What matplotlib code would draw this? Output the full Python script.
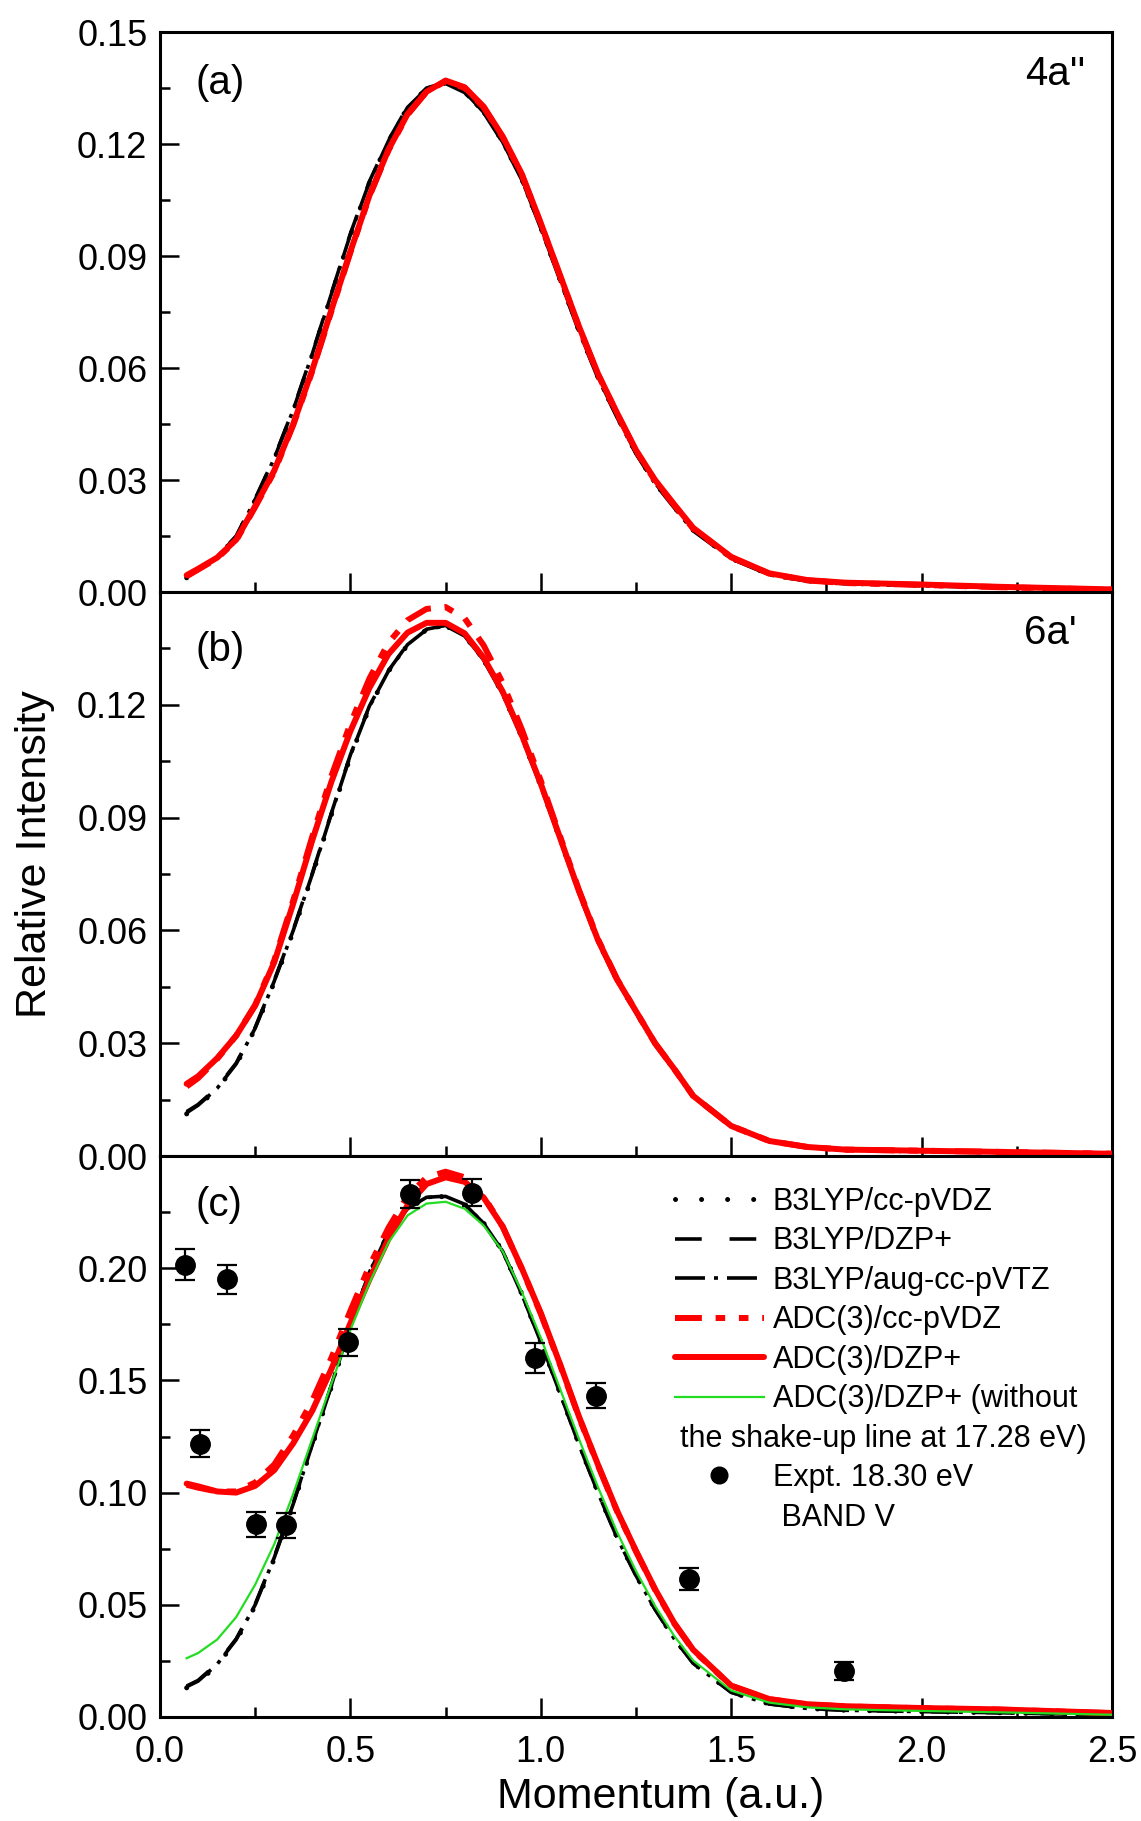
import matplotlib
matplotlib.use('Agg')
import matplotlib.pyplot as plt
from matplotlib.lines import Line2D
from matplotlib.ticker import FixedLocator, MultipleLocator, FormatStrFormatter

plt.rcParams['font.family'] = ['Liberation Sans', 'DejaVu Sans']

# ---------------- data ----------------
momentum = [0.07, 0.10, 0.15, 0.20, 0.25, 0.30, 0.35, 0.40, 0.45, 0.50, 0.55, 0.60,
            0.65, 0.70, 0.75, 0.80, 0.85, 0.90, 0.95, 1.00, 1.05, 1.10, 1.15, 1.20,
            1.25, 1.30, 1.35, 1.40, 1.50, 1.60, 1.70, 1.80, 2.00, 2.20, 2.50]

# panel (a) 4a''
a_b3lyp_ccpvdz = [0.0038, 0.0058, 0.0093, 0.0147, 0.0246, 0.0355, 0.0485, 0.0635, 0.0795, 0.0955, 0.1096, 0.1207,
                  0.1298, 0.1348, 0.1364, 0.1340, 0.1286, 0.1206, 0.1106, 0.0976, 0.0838, 0.0700, 0.0575, 0.0470,
                  0.0372, 0.0292, 0.0228, 0.0166, 0.0090, 0.0047, 0.0030, 0.0023, 0.0018, 0.0012, 0.0006]
a_b3lyp_dzp = [0.0040, 0.0060, 0.0095, 0.0150, 0.0250, 0.0360, 0.0490, 0.0640, 0.0800, 0.0960, 0.1100, 0.1210,
               0.1300, 0.1350, 0.1365, 0.1340, 0.1285, 0.1205, 0.1105, 0.0975, 0.0838, 0.0700, 0.0575, 0.0470,
               0.0372, 0.0292, 0.0228, 0.0166, 0.0090, 0.0047, 0.0030, 0.0023, 0.0018, 0.0012, 0.0006]
a_b3lyp_aug = [0.0040, 0.0060, 0.0094, 0.0148, 0.0248, 0.0358, 0.0488, 0.0638, 0.0798, 0.0958, 0.1098, 0.1208,
               0.1298, 0.1348, 0.1362, 0.1338, 0.1284, 0.1204, 0.1104, 0.0974, 0.0836, 0.0698, 0.0573, 0.0468,
               0.0370, 0.0290, 0.0226, 0.0164, 0.0089, 0.0046, 0.0029, 0.0022, 0.0017, 0.0011, 0.0005]
a_adc_ccpvdz = [0.0042, 0.0060, 0.0090, 0.0138, 0.0228, 0.0322, 0.0448, 0.0592, 0.0752, 0.0910, 0.1060, 0.1183,
                0.1278, 0.1340, 0.1368, 0.1350, 0.1298, 0.1218, 0.1118, 0.0986, 0.0848, 0.0710, 0.0583, 0.0478,
                0.0378, 0.0298, 0.0233, 0.0170, 0.0093, 0.0049, 0.0031, 0.0024, 0.0019, 0.0013, 0.0006]
a_adc_dzp = [0.0045, 0.0062, 0.0092, 0.0140, 0.0230, 0.0325, 0.0450, 0.0595, 0.0755, 0.0912, 0.1062, 0.1185,
             0.1280, 0.1340, 0.1370, 0.1352, 0.1300, 0.1220, 0.1120, 0.0988, 0.0850, 0.0712, 0.0585, 0.0480,
             0.0380, 0.0300, 0.0235, 0.0172, 0.0094, 0.0050, 0.0032, 0.0025, 0.0020, 0.0014, 0.0007]

# panel (b) 6a'
b_b3lyp_ccpvdz = [0.0112, 0.0133, 0.0178, 0.0243, 0.0338, 0.0462, 0.0597, 0.0747, 0.0907, 0.1062, 0.1193, 0.1289,
                  0.1359, 0.1400, 0.1410, 0.1384, 0.1319, 0.1229, 0.1114, 0.0984, 0.0843, 0.0701, 0.0571, 0.0467,
                  0.0382, 0.0298, 0.0230, 0.0159, 0.0079, 0.0039, 0.0023, 0.0016, 0.0013, 0.0010, 0.0005]
b_b3lyp_dzp = [0.0118, 0.0137, 0.0182, 0.0247, 0.0342, 0.0467, 0.0602, 0.0752, 0.0912, 0.1067, 0.1197, 0.1291,
               0.1361, 0.1401, 0.1411, 0.1384, 0.1319, 0.1229, 0.1114, 0.0984, 0.0843, 0.0701, 0.0571, 0.0467,
               0.0382, 0.0298, 0.0230, 0.0159, 0.0079, 0.0039, 0.0023, 0.0016, 0.0013, 0.0010, 0.0005]
b_b3lyp_aug = [0.0115, 0.0135, 0.0180, 0.0245, 0.0340, 0.0465, 0.0600, 0.0750, 0.0910, 0.1065, 0.1195, 0.1290,
               0.1360, 0.1400, 0.1410, 0.1383, 0.1318, 0.1228, 0.1113, 0.0983, 0.0842, 0.0700, 0.0570, 0.0466,
               0.0381, 0.0297, 0.0229, 0.0158, 0.0079, 0.0039, 0.0023, 0.0016, 0.0013, 0.0010, 0.0005]
b_adc_ccpvdz = [0.0185, 0.0207, 0.0258, 0.0320, 0.0402, 0.0520, 0.0680, 0.0850, 0.1010, 0.1150, 0.1270, 0.1365,
                0.1425, 0.1455, 0.1460, 0.1430, 0.1358, 0.1258, 0.1135, 0.0998, 0.0852, 0.0708, 0.0577, 0.0471,
                0.0385, 0.0300, 0.0232, 0.0160, 0.0080, 0.0040, 0.0024, 0.0017, 0.0014, 0.0011, 0.0006]
b_adc_dzp = [0.0192, 0.0212, 0.0260, 0.0320, 0.0400, 0.0515, 0.0672, 0.0840, 0.0995, 0.1130, 0.1245, 0.1335,
             0.1392, 0.1418, 0.1418, 0.1390, 0.1325, 0.1235, 0.1120, 0.0990, 0.0848, 0.0705, 0.0575, 0.0470,
             0.0385, 0.0300, 0.0232, 0.0160, 0.0080, 0.0040, 0.0024, 0.0017, 0.0014, 0.0011, 0.0006]

# panel (c) band V
c_b3lyp_ccpvdz = [0.0130, 0.0156, 0.0230, 0.0340, 0.0495, 0.0705, 0.0945, 0.1210, 0.1470, 0.1740, 0.1976, 0.2157,
                  0.2263, 0.2314, 0.2320, 0.2286, 0.2201, 0.2076, 0.1886, 0.1672, 0.1446, 0.1216, 0.1001, 0.0801,
                  0.0631, 0.0481, 0.0351, 0.0241, 0.0110, 0.0058, 0.0038, 0.0030, 0.0024, 0.0019, 0.0009]
c_b3lyp_dzp = [0.0138, 0.0163, 0.0238, 0.0348, 0.0503, 0.0713, 0.0953, 0.1218, 0.1478, 0.1748, 0.1982, 0.2161,
               0.2266, 0.2316, 0.2321, 0.2285, 0.2200, 0.2075, 0.1885, 0.1671, 0.1445, 0.1215, 0.1000, 0.0800,
               0.0630, 0.0480, 0.0350, 0.0240, 0.0110, 0.0058, 0.0038, 0.0030, 0.0024, 0.0019, 0.0009]
c_b3lyp_aug = [0.0135, 0.0160, 0.0235, 0.0345, 0.0500, 0.0710, 0.0950, 0.1215, 0.1475, 0.1745, 0.1980, 0.2160,
               0.2265, 0.2315, 0.2320, 0.2285, 0.2200, 0.2075, 0.1885, 0.1671, 0.1445, 0.1215, 0.1000, 0.0800,
               0.0630, 0.0480, 0.0350, 0.0240, 0.0110, 0.0058, 0.0038, 0.0030, 0.0024, 0.0019, 0.0009]
c_adc_ccpvdz = [0.1035, 0.1022, 0.1005, 0.1005, 0.1045, 0.1125, 0.1255, 0.1410, 0.1600, 0.1810, 0.2010, 0.2180,
                0.2320, 0.2405, 0.2430, 0.2405, 0.2320, 0.2185, 0.1998, 0.1797, 0.1572, 0.1337, 0.1122, 0.0918,
                0.0738, 0.0568, 0.0418, 0.0298, 0.0139, 0.0079, 0.0056, 0.0047, 0.0039, 0.0033, 0.0017]
c_adc_dzp = [0.1040, 0.1028, 0.1005, 0.1000, 0.1030, 0.1100, 0.1220, 0.1365, 0.1550, 0.1755, 0.1950, 0.2130,
             0.2280, 0.2375, 0.2405, 0.2385, 0.2315, 0.2185, 0.2000, 0.1800, 0.1575, 0.1340, 0.1125, 0.0920,
             0.0740, 0.0570, 0.0420, 0.0300, 0.0140, 0.0080, 0.0057, 0.0048, 0.0040, 0.0034, 0.0018]
c_adc_dzp_noshake = [0.0262, 0.0285, 0.0345, 0.0445, 0.0590, 0.0770, 0.0995, 0.1240, 0.1485, 0.1725, 0.1935, 0.2115,
                     0.2235, 0.2288, 0.2296, 0.2265, 0.2190, 0.2075, 0.1895, 0.1690, 0.1465, 0.1240, 0.1025, 0.0825,
                     0.0650, 0.0495, 0.0362, 0.0252, 0.0118, 0.0064, 0.0043, 0.0034, 0.0027, 0.0021, 0.0010]

expt_momentum = [0.066, 0.104, 0.175, 0.253, 0.332, 0.494, 0.656, 0.820, 0.984, 1.146, 1.390, 1.796]
expt_intensity = [0.2016, 0.1218, 0.1950, 0.0859, 0.0854, 0.1670, 0.2332, 0.2337, 0.1600, 0.1431, 0.0614, 0.0205]
expt_error = [0.0070, 0.0060, 0.0065, 0.0055, 0.0055, 0.0060, 0.0063, 0.0060, 0.0065, 0.0056, 0.0050, 0.0040]

legend_labels = ['B3LYP/cc-pVDZ', 'B3LYP/DZP+', 'B3LYP/aug-cc-pVTZ', 'ADC(3)/cc-pVDZ',
                 'ADC(3)/DZP+', 'ADC(3)/DZP+ (without']
legend_label_cont = 'the shake-up line at 17.28 eV)'
expt_labels = ['Expt. 18.30 eV', ' BAND V']

# ---------------- styles ----------------
RED = '#ff0000'
GREEN = '#22dd22'
st_dot = dict(color='k', lw=3.6, linestyle=(0, (0.01, 5.2)), dash_capstyle='round', zorder=2)
st_dash = dict(color='k', lw=2.6, linestyle=(0, (7.4, 7.7)), zorder=2)
st_dd = dict(color='k', lw=2.6, linestyle=(0, (8.3, 2.5, 1.1, 2.5)), zorder=2)
st_rdd = dict(color=RED, lw=4.3, linestyle=(0, (4.5, 2.3, 1.6, 2.3, 1.6, 2.3)), zorder=3)
st_rs = dict(color=RED, lw=4.3, solid_capstyle='round', zorder=3)
st_g = dict(color=GREEN, lw=1.6, zorder=4)

TICK_FS = 26
LABEL_FS = 31
PANEL_FS = 29
LEG_FS = 22

fig = plt.figure(figsize=(11.41, 18.21), dpi=100)
L, W = 160 / 1141, 952 / 1141


def fy(y):
    return 1 - y / 1821


axa = fig.add_axes([L, fy(592), W, (592 - 32) / 1821])
axb = fig.add_axes([L, fy(1156), W, (1156 - 592) / 1821])
axc = fig.add_axes([L, fy(1717), W, (1717 - 1156) / 1821])


def style(ax, ymax, majors, minors, show_x):
    ax.set_xlim(0, 2.5)
    ax.set_ylim(0, ymax)
    ax.xaxis.set_major_locator(MultipleLocator(0.5))
    ax.xaxis.set_minor_locator(MultipleLocator(0.25))
    ax.yaxis.set_major_locator(FixedLocator(majors))
    ax.yaxis.set_minor_locator(FixedLocator(minors))
    ax.yaxis.set_major_formatter(FormatStrFormatter('%.2f'))
    ax.xaxis.set_major_formatter(FormatStrFormatter('%.1f'))
    ax.tick_params(which='both', direction='in', top=False, right=False, width=1.8)
    ax.tick_params(which='major', length=14, labelsize=TICK_FS)
    ax.tick_params(which='minor', length=7)
    ax.tick_params(axis='y', pad=9)
    ax.tick_params(axis='x', pad=13, labelbottom=show_x)
    for s in ax.spines.values():
        s.set_linewidth(2.2)


style(axa, 0.15, [0, 0.03, 0.06, 0.09, 0.12, 0.15], [0.015, 0.045, 0.075, 0.105, 0.135], False)
style(axb, 0.15, [0, 0.03, 0.06, 0.09, 0.12], [0.015, 0.045, 0.075, 0.105, 0.135], False)
style(axc, 0.25, [0, 0.05, 0.10, 0.15, 0.20], [0.025, 0.075, 0.125, 0.175, 0.225], True)

for ax, d in [(axa, (a_b3lyp_ccpvdz, a_b3lyp_dzp, a_b3lyp_aug, a_adc_ccpvdz, a_adc_dzp)),
              (axb, (b_b3lyp_ccpvdz, b_b3lyp_dzp, b_b3lyp_aug, b_adc_ccpvdz, b_adc_dzp))]:
    ax.plot(momentum, d[0], **st_dot)
    ax.plot(momentum, d[1], **st_dash)
    ax.plot(momentum, d[2], **st_dd)
    ax.plot(momentum, d[3], **st_rdd)
    ax.plot(momentum, d[4], **st_rs)

h1, = axc.plot(momentum, c_b3lyp_ccpvdz, **st_dot)
h2, = axc.plot(momentum, c_b3lyp_dzp, **st_dash)
h3, = axc.plot(momentum, c_b3lyp_aug, **st_dd)
h4, = axc.plot(momentum, c_adc_ccpvdz, **st_rdd)
h5, = axc.plot(momentum, c_adc_dzp, **st_rs)
h6, = axc.plot(momentum, c_adc_dzp_noshake, **st_g)
axc.errorbar(expt_momentum, expt_intensity, yerr=expt_error, fmt='o', color='k',
             markersize=14, elinewidth=1.6, capsize=7.5, capthick=1.6, zorder=5)

# panel annotations
axa.text(0.037, 0.89, '(a)', transform=axa.transAxes, fontsize=PANEL_FS, va='baseline', ha='left')
axa.text(0.972, 0.905, "4a''", transform=axa.transAxes, fontsize=PANEL_FS, va='baseline', ha='right')
axb.text(0.037, 0.877, '(b)', transform=axb.transAxes, fontsize=PANEL_FS, va='baseline', ha='left')
axb.text(0.963, 0.908, "6a'", transform=axb.transAxes, fontsize=PANEL_FS, va='baseline', ha='right')
axc.text(0.037, 0.893, '(c)', transform=axc.transAxes, fontsize=PANEL_FS, va='baseline', ha='left')

fig.text(35 / 1141, fy(854), 'Relative Intensity', rotation=90, fontsize=LABEL_FS, ha='center', va='center')
fig.text(661 / 1141, fy(1797), 'Momentum (a.u.)', fontsize=LABEL_FS, ha='center', va='center')

# legend
blank1 = Line2D([], [], linestyle='none')
blank2 = Line2D([], [], linestyle='none')
dot_h = Line2D([], [], linestyle='none', marker='o', color='k', markersize=12)
handles = [h1, h2, h3, h4, h5, h6, blank1, dot_h, blank2]
labels = legend_labels + [' '] + expt_labels
HL, HTP = 2.9, 0.3
leg = axc.legend(handles, labels, loc='upper left', bbox_to_anchor=((675 - 160) / 952, 0.945),
                 frameon=False, fontsize=LEG_FS, handlelength=HL, handletextpad=HTP,
                 labelspacing=0.31, borderpad=0, borderaxespad=0)

fig.canvas.draw()
texts = leg.get_texts()
bb5 = texts[5].get_window_extent()
bb7 = texts[7].get_window_extent()
fs_px = LEG_FS * fig.dpi / 72
x_start = texts[0].get_window_extent().x0 - (HL + HTP) * fs_px + 5
y_mid = (bb5.y0 + bb7.y0) / 2
fig.text(x_start / fig.bbox.width, y_mid / fig.bbox.height, legend_label_cont,
         fontsize=LEG_FS, ha='left', va='bottom')

fig.savefig('out.png', dpi=100)
